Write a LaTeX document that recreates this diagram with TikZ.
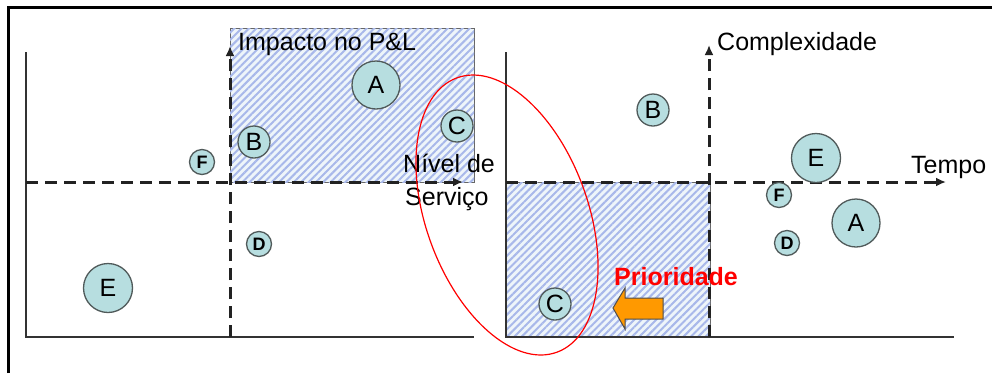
\documentclass[tikz,border=0pt]{standalone}
\usepackage{fontspec}
\setmainfont{Liberation Sans}
\usetikzlibrary{arrows.meta,patterns.meta}
\definecolor{bubfill}{RGB}{183,222,224}
\definecolor{bubline}{RGB}{80,90,90}
\definecolor{hatchbg}{RGB}{238,245,250}
\definecolor{hatchline}{RGB}{168,184,234}
\definecolor{dashc}{RGB}{34,34,34}
\definecolor{orangearrow}{RGB}{255,153,0}
\begin{document}
\begin{tikzpicture}[x=1pt,y=-1pt,
  bub/.style={circle, draw=bubline, fill=bubfill, line width=1.3pt, inner sep=0pt, font=\fontsize{25}{30}\selectfont},
  bubsmall/.style={bub, font=\bfseries\fontsize{18}{20}\selectfont},
  axisline/.style={draw=black!80, line width=1.3pt},
  dashaxis/.style={draw=dashc, line width=3pt, dash pattern=on 12pt off 7pt, -{Latex[length=10pt,width=9pt]}},
  hatch/.style={draw=black!60, line width=1pt, fill=hatchbg, postaction={pattern={Lines[angle=45,distance=5.2pt,line width=2pt]}, pattern color=hatchline}},
  lbl/.style={anchor=base west, inner sep=0pt, font=\fontsize{25}{30}\selectfont},
  frame/.style={draw=black, line width=3pt},
  ring/.style={draw=red, line width=1.2pt},
  blockarrow/.style={draw=black!70, line width=1pt, fill=orangearrow, line join=miter},
]
\useasboundingbox[fill=white] (0,0) rectangle (992,373);
% frame
\coordinate (fbl) at (8,373);
\coordinate (ftl) at (8,7);
\coordinate (ftr) at (992,7);
\draw[frame] (fbl) -- (ftl) -- (ftr);

% hatched regions
\path[hatch] (230,28) rectangle (474,182);
\path[hatch] (506,182) rectangle (710,337);

% left chart axes
\coordinate (l0) at (26,337);
\coordinate (ltop) at (26,52);
\coordinate (lright) at (474,337);
\draw[axisline] (ltop) -- (l0) -- (lright);
\coordinate (lhs) at (26,182);
\coordinate (lhe) at (463,182);
\coordinate (lvs) at (230,337);
\coordinate (lve) at (230,46);
\draw[dashaxis] (lhs) -- (lhe);
\draw[dashaxis] (lvs) -- (lve);

% right chart axes
\coordinate (r0) at (506,337);
\coordinate (rtop) at (506,52);
\coordinate (rright) at (954,337);
\draw[axisline] (rtop) -- (r0) -- (rright);
\coordinate (rhs) at (506,182);
\coordinate (rhe) at (946,182);
\coordinate (rvs) at (709,337);
\coordinate (rve) at (709,45);
\draw[dashaxis] (rhs) -- (rhe);
\draw[dashaxis] (rvs) -- (rve);

% left bubbles
\node[bub, minimum size=48pt] (lA) at (376,85) {A};
\node[bub, minimum size=32pt] (lC) at (457,126) {C};
\node[bub, minimum size=32pt] (lB) at (254,142) {B};
\node[bubsmall, minimum size=25pt] (lF) at (202,162) {F};
\node[bubsmall, minimum size=25pt] (lD) at (259,244) {D};
\node[bub, minimum size=49pt] (lE) at (108,288) {E};

% right bubbles
\node[bub, minimum size=32pt] (rB) at (653,110) {B};
\node[bub, minimum size=49pt] (rE) at (816,158) {E};
\node[bubsmall, minimum size=25pt] (rF) at (779,195) {F};
\node[bub, minimum size=48pt] (rA) at (856,223) {A};
\node[bubsmall, minimum size=25pt] (rD) at (787,243) {D};
\node[bub, minimum size=32pt] (rC) at (555,304) {C};

% labels
\node[lbl] (ylab1) at (238,50) {Impacto no P\&L};
\node[lbl] (xlab1a) at (403,172) {Nível de};
\node[lbl] (xlab1b) at (405,205) {Serviço};
\node[lbl] (ylab2) at (717,50) {Complexidade};
\node[lbl] (xlab2) at (911,173) {Tempo};

% red ellipse
\draw[ring, rotate around={20:(507,215)}] (507,215) ellipse [x radius=81pt, y radius=146pt];

% priority
\node[lbl, text=red, font=\bfseries\fontsize{25}{30}\selectfont] (prio) at (614,285) {Prioridade};
\draw[blockarrow] (613,308) -- (625,288) -- (625,298) -- (663,298) -- (663,319) -- (625,319) -- (625,329) -- cycle;
\end{tikzpicture}
\end{document}
